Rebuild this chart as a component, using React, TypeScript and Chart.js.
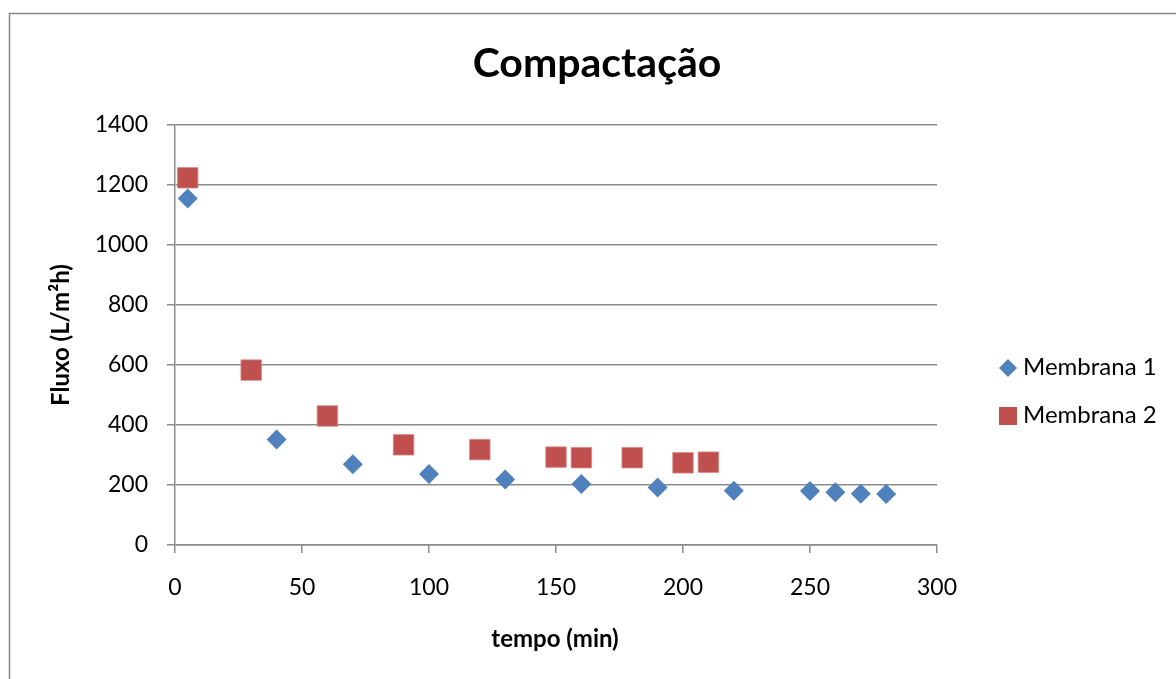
import React, { useEffect, useRef } from "react";
import { Chart, registerables } from "chart.js";

Chart.register(...registerables);

const chartTitle = "Compactação";
const xAxisTitle = "tempo (min)";
const yAxisTitle = "Fluxo (L/m²h)";
const seriesNames = ["Membrana 1", "Membrana 2"];

const tempo1 = [5, 40, 70, 100, 130, 160, 190, 220, 250, 260, 270, 280];
const fluxo1 = [1155, 352, 269, 237, 218, 203, 192, 181, 180, 176, 171, 170];

const tempo2 = [5, 30, 60, 90, 120, 150, 160, 180, 200, 210];
const fluxo2 = [1224, 583, 430, 334, 318, 293, 291, 291, 274, 276];

const xMin = 0;
const xMax = 300;
const xStep = 50;
const yMin = 0;
const yMax = 1400;
const yStep = 200;

const BLUE = "#4F81BD";
const RED = "#C0504D";
const GRID = "#8c8c8c";
const FONT = "Lato, 'Open Sans', sans-serif";

const W = 1176;
const H = 679;

export default function App() {
  const ref = useRef<HTMLCanvasElement | null>(null);

  useEffect(() => {
    document.body.style.margin = "0";
    const canvas = ref.current;
    if (!canvas) return;

    const overlay = {
      id: "overlay",
      beforeDraw(chart: any) {
        const ctx = chart.ctx;
        ctx.save();
        ctx.fillStyle = "#ffffff";
        ctx.fillRect(0, 0, W, H);
        ctx.strokeStyle = "#888888";
        ctx.lineWidth = 1.5;
        ctx.strokeRect(9.5, 13.5, W + 20, H + 20);
        ctx.restore();
      },
      afterDraw(chart: any) {
        const ctx = chart.ctx;
        const area = chart.chartArea;
        ctx.save();
        ctx.fillStyle = "#000000";
        // title
        ctx.font = `bold 41px ${FONT}`;
        ctx.textAlign = "center";
        ctx.textBaseline = "alphabetic";
        ctx.fillText(chartTitle, 597, 77);
        // x axis title
        ctx.font = `bold 24px ${FONT}`;
        ctx.fillText(xAxisTitle, (area.left + area.right) / 2 - 1, 647);
        // y axis title
        ctx.save();
        ctx.translate(61, (area.top + area.bottom) / 2);
        ctx.rotate(-Math.PI / 2);
        ctx.textBaseline = "middle";
        ctx.fillText(yAxisTitle, 0, 0);
        ctx.restore();
        // legend
        ctx.font = `24px ${FONT}`;
        ctx.textAlign = "left";
        ctx.textBaseline = "alphabetic";
        const lx = 1008;
        const rows = [368, 416];
        ctx.fillStyle = BLUE;
        ctx.beginPath();
        ctx.moveTo(lx, rows[0] - 9);
        ctx.lineTo(lx + 9, rows[0]);
        ctx.lineTo(lx, rows[0] + 9);
        ctx.lineTo(lx - 9, rows[0]);
        ctx.closePath();
        ctx.fill();
        ctx.fillStyle = RED;
        ctx.fillRect(lx - 9, rows[1] - 9, 18, 18);
        ctx.fillStyle = "#000000";
        ctx.fillText(seriesNames[0], 1023, rows[0] + 7);
        ctx.fillText(seriesNames[1], 1023, rows[1] + 7);
        ctx.restore();
      },
    };

    const chart = new Chart(canvas, {
      type: "scatter",
      data: {
        datasets: [
          {
            label: seriesNames[0],
            data: tempo1.map((x, i) => ({ x, y: fluxo1[i] })),
            pointStyle: "rectRot",
            pointRadius: 10,
            backgroundColor: BLUE,
            borderColor: BLUE,
            borderWidth: 0,
          },
          {
            label: seriesNames[1],
            data: tempo2.map((x, i) => ({ x, y: fluxo2[i] })),
            pointStyle: "rect",
            pointRadius: 14.5,
            backgroundColor: RED,
            borderColor: "#d88a88",
            borderWidth: 0.8,
          },
        ],
      },
      plugins: [overlay],
      options: {
        responsive: false,
        animation: false,
        events: [],
        layout: { padding: { left: 0, top: 125, right: 239, bottom: 0 } },
        plugins: {
          legend: { display: false },
          title: { display: false },
          tooltip: { enabled: false },
        },
        scales: {
          x: {
            type: "linear",
            min: xMin,
            max: xMax,
            afterFit: (s: any) => {
              s.height = H - 545;
            },
            ticks: {
              stepSize: xStep,
              color: "#000",
              font: { family: FONT, size: 23 },
              padding: 21,
              maxRotation: 0,
              callback: (v: any) => String(v),
            },
            grid: {
              drawOnChartArea: false,
              drawTicks: true,
              tickLength: 8,
              color: GRID,
              lineWidth: 1.5,
            },
            border: { display: true, color: GRID, width: 1.5 },
          },
          y: {
            type: "linear",
            min: yMin,
            max: yMax,
            afterFit: (s: any) => {
              s.width = 175;
            },
            ticks: {
              stepSize: yStep,
              color: "#000",
              font: { family: FONT, size: 23 },
              padding: 19,
              callback: (v: any) => String(v),
            },
            grid: {
              drawTicks: true,
              tickLength: 8,
              color: GRID,
              lineWidth: 1.5,
            },
            border: { display: true, color: GRID, width: 1.5 },
          },
        },
      },
    });

    return () => chart.destroy();
  }, []);

  return (
    <div style={{ position: "absolute", left: 0, top: 0, width: W, height: H }}>
      <canvas ref={ref} width={W} height={H} style={{ width: W, height: H, display: "block" }} />
    </div>
  );
}
